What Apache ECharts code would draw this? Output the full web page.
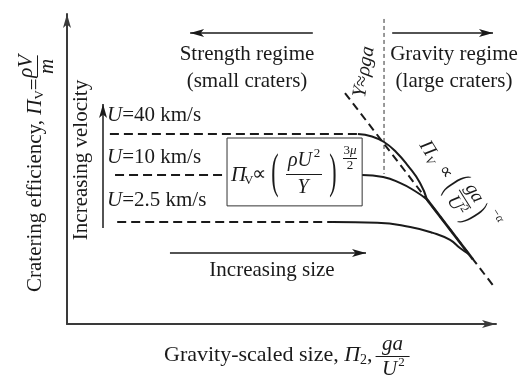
<!DOCTYPE html>
<html><head><meta charset="utf-8">
<script src="https://cdn.jsdelivr.net/npm/echarts/dist/echarts.min.js"></script>
<style>html,body{margin:0;padding:0;background:#fff}#c{width:523px;height:381px}</style>
</head><body><div id="c"></div>
<script>
// ---- data (schematic units: 0..100 on both axes) ----
const xRange = [0, 100];
const yRange = [0, 100];
const u40Flat = [[10.0, 61.3], [67.8, 61.3]];
const u40Curve = [[67.8, 61.3], [71.1, 60.5], [73.9, 58.7], [76.7, 55.5], [79.5, 51.0], [82.3, 45.5], [83.9, 40.2]];
const u10Flat = [[11.2, 48.1], [37.3, 48.1]];
const u10Curve = [[68.8, 48.1], [73.7, 47.4], [77.6, 45.5], [81.1, 42.9], [83.9, 40.2]];
const u25Flat = [[11.7, 32.9], [62.0, 32.9]];
const u25Curve = [[62.0, 32.9], [72.3, 32.7], [80.0, 31.3], [85.3, 29.4], [89.3, 27.1], [91.6, 24.5], [93.7, 22.5]];
const gravityAsymptote = [[83.9, 40.2], [94.6, 20.9]];
const strengthLimit = [[64.8, 74.5], [99.8, 11.6]];
const regimeDivider = [[73.9, 98.4], [73.9, 48.4]];
const formulaBox = [[37.3, 60.0], [68.8, 60.0], [68.8, 38.1], [37.3, 38.1], [37.3, 60.0]];
const arrowStrength = [[57.3, 93.9], [28.7, 93.9]];
const arrowGravity = [[75.8, 93.9], [99.3, 93.9]];
const arrowVelocity = [[8.4, 31.0], [8.4, 71.0]];
const arrowSize = [[24.0, 22.9], [69.7, 22.9]];
const velocityLabels = ['40 km/s', '10 km/s', '2.5 km/s'];

// ---- styling ----
const FONT = "'Liberation Serif','Times New Roman',serif";
const INK = '#1a1a1a';
const f = (size, italic) => (italic ? 'italic ' : '') + size + 'px ' + FONT;
const ctx = document.createElement('canvas').getContext('2d');
const tw = (t, font) => { ctx.font = font; return ctx.measureText(t).width; };

function T(x, y, text, o) {
  o = o || {};
  const st = { text: text, font: f(o.size || 21, o.italic), fill: INK,
    align: o.align || 'center', verticalAlign: o.va || 'middle' };
  if (o.rich) st.rich = o.rich;
  return { type: 'text', x: x, y: y, rotation: o.rot || 0, scaleX: o.sx || 1, scaleY: o.sy || 1,
    style: st, silent: true, z: 100 };
}
function L(x1, y1, x2, y2, w) {
  return { type: 'line', shape: { x1: x1, y1: y1, x2: x2, y2: y2 },
    style: { stroke: INK, lineWidth: w || 1 }, silent: true, z: 100 };
}
const richI = { i: { font: f(21, true), fill: INK } };

const g = [];
// regime headers
g.push(T(247, 54, 'Strength regime'));
g.push(T(247, 81, '(small craters)'));
g.push(T(454, 54, 'Gravity regime'));
g.push(T(454, 81, '(large craters)'));
// velocity labels
const velY = [115, 157, 200];
velocityLabels.forEach((v, i) => g.push(T(107, velY[i], '{i|U}=' + v, { align: 'left', rich: richI })));
g.push(T(81, 160, 'Increasing velocity', { rot: Math.PI / 2 }));
g.push(T(272, 270, 'Increasing size'));
// Y ≈ rho g a
g.push(T(364, 72, '{i|Y}≈{i|ρga}', { rot: 80 * Math.PI / 180, size: 20,
  rich: { i: { font: f(20, true), fill: INK } } }));
// box formula
g.push(T(231, 175, 'Π', { italic: true, align: 'left' }));
g.push(T(244, 181, 'V', { size: 13, align: 'left' }));
g.push(T(259, 175, '∝', { size: 20 }));
g.push(T(275, 174, '(', { size: 22, sy: 2.2 }));
g.push(T(300, 161, 'ρU', { italic: true, size: 20 }));
g.push(T(317, 154, '2', { size: 13 }));
g.push(L(286, 174.5, 322, 174.5, 1));
g.push(T(303, 188, 'Y', { italic: true, size: 20 }));
g.push(T(333, 174, ')', { size: 22, sy: 2.2 }));
g.push(T(350, 151, '3{i|μ}', { size: 13, rich: { i: { font: f(13, true), fill: INK } } }));
g.push(L(343, 158.5, 357, 158.5, 1));
g.push(T(350, 166, '2', { size: 13 }));
// gravity-regime formula (rotated)
g.push({ type: 'group', x: 465, y: 199, rotation: -58 * Math.PI / 180, children: [
  T(-63, 5, 'Π', { italic: true, size: 20 }),
  T(-51, 10, 'V', { italic: true, size: 12 }),
  T(-33, 2, '∝', { size: 18 }),
  T(-18, 0, '(', { size: 20, sy: 2.0 }),
  T(0, -11, 'ga', { italic: true, size: 19 }),
  L(-11, 0, 11, 0, 1),
  T(-2, 11, 'U', { italic: true, size: 19 }),
  T(8, 6, '2', { size: 12 }),
  T(18, 0, ')', { size: 20, sy: 2.0 }),
  T(31, -19, '−α', { italic: true, size: 12 })
] });
// x-axis title
(function () {
  let x = 164; const y = 355; const fs = 22;
  const s1 = 'Gravity-scaled size, ';
  g.push(T(x, y, s1, { align: 'left', size: fs })); x += tw(s1, f(fs));
  g.push(T(x, y, 'Π', { italic: true, align: 'left', size: fs })); x += tw('Π', f(fs, true));
  g.push(T(x, y + 5, '2', { size: 14, align: 'left' })); x += tw('2', f(14));
  g.push(T(x, y, ',', { align: 'left', size: fs })); x += tw(',', f(fs));
  const xc = x + 20;
  g.push(T(xc, 344, 'ga', { italic: true }));
  g.push(L(xc - 17, 356.5, xc + 17, 356.5, 1));
  g.push(T(xc - 3, 369, 'U', { italic: true }));
  g.push(T(xc + 9, 363, '2', { size: 13 }));
})();
// y-axis title (rotated group)
(function () {
  const ch = [];
  let x = 0;
  const s1 = 'Cratering efficiency, ';
  ch.push(T(x, 0, s1, { align: 'left' })); x += tw(s1, f(21));
  ch.push(T(x, 0, 'Π', { italic: true, align: 'left' })); x += tw('Π', f(21, true));
  ch.push(T(x, 5, 'V', { size: 13, align: 'left' })); x += tw('V', f(13));
  ch.push(T(x, 0, '=', { align: 'left' })); x += tw('=', f(21)) + 1;
  const w = 22, cx = x + w / 2;
  ch.push(T(cx, -9, 'ρV', { italic: true }));
  ch.push(L(x, 2.5, x + w, 2.5, 1));
  ch.push(T(cx, 12, 'm', { italic: true }));
  g.push({ type: 'group', x: 35, y: 292, rotation: Math.PI / 2, children: ch });
})();

const axisCommon = {
  type: 'value', axisTick: { show: false }, axisLabel: { show: false }, splitLine: { show: false },
  axisLine: { show: true, symbol: ['none', 'arrow'], symbolSize: [6, 14],
    lineStyle: { color: '#3a3a3a', width: 2 } }
};
const lineS = (data, style, extra) => Object.assign({ type: 'line', data: data, symbol: 'none',
  showSymbol: false, silent: true, lineStyle: Object.assign({ color: INK, width: 2 }, style) }, extra || {});

const option = {
  animation: false,
  backgroundColor: '#fff',
  grid: { left: 67, right: 27, top: 14, bottom: 57, containLabel: false },
  xAxis: Object.assign({}, axisCommon, { min: xRange[0], max: xRange[1] }),
  yAxis: Object.assign({}, axisCommon, { min: yRange[0], max: yRange[1] }),
  series: [
    lineS(u40Flat, { type: [9, 5] }),
    lineS(u10Flat, { type: [9, 5] }),
    lineS(u25Flat, { type: [9, 5] }),
    lineS(strengthLimit, { type: [8, 5], width: 2 }),
    lineS(regimeDivider, { type: [4, 3], width: 1, color: '#333' }),
    lineS(u40Curve, {}, { smooth: true }),
    lineS(u10Curve, {}, { smooth: true }),
    lineS(u25Curve, {}, { smooth: true }),
    lineS(gravityAsymptote, { width: 2.6 }),
    lineS(formulaBox, { width: 1, color: '#333' }),
    { type: 'lines', coordinateSystem: 'cartesian2d', silent: true,
      symbol: ['none', 'arrow'], symbolSize: [[6, 14], [6, 14]],
      lineStyle: { color: INK, width: 1.5, opacity: 1, curveness: 0 },
      data: [arrowStrength, arrowGravity, arrowVelocity, arrowSize].map(a => ({ coords: a })) }
  ],
  graphic: g
};
const chart = echarts.init(document.getElementById('c'), null, { renderer: 'canvas' });
chart.setOption(option);
</script></body></html>
